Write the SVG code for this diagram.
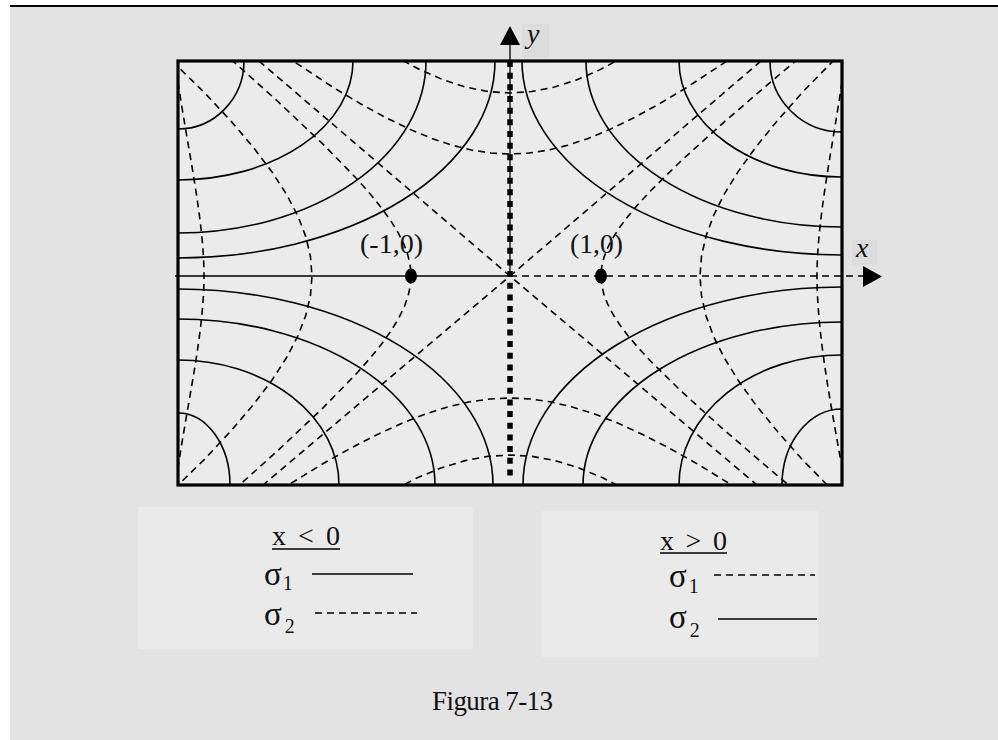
<svg xmlns="http://www.w3.org/2000/svg" width="998" height="740" viewBox="0 0 998 740">
<style>
.bg{fill:#e3e3e3}
.panel{fill:#eaeaea}
.lblbox{fill:#dcdcdc}
.solid{fill:none;stroke:#000;stroke-width:1.6}
.dash{fill:none;stroke:#000;stroke-width:1.6;stroke-dasharray:7 5}
.t{font-family:"Liberation Serif","Times New Roman",serif;fill:#111}
.it{font-style:italic}
</style>
<defs>
<path id="hyp" fill="none" stroke="#000" stroke-width="1.6" stroke-dasharray="7 5" vector-effect="non-scaling-stroke" d="M6.1323,-6.0502 L4.7966,-4.6912 3.7622,-3.6269 2.9642,-2.7904 2.3524,-2.1293 1.8884,-1.6019 1.5431,-1.1752 1.4079,-0.991 1.2947,-0.8223 1.2017,-0.6665 1.1276,-0.5211 1.0711,-0.3838 1.0314,-0.2526 1.0078,-0.1253 1,0 1.0078,0.1253 1.0314,0.2526 1.0711,0.3838 1.1276,0.5211 1.2017,0.6665 1.2947,0.8223 1.4079,0.991 1.5431,1.1752 1.8884,1.6019 2.3524,2.1293 2.9642,2.7904 3.7622,3.6269 4.7966,4.6912 6.1323,6.0502"/>
<clipPath id="plotclip"><rect x="178" y="61" width="664" height="424"/></clipPath>
</defs>

<g id="background">
<rect x="10" y="7" width="988" height="733" class="bg"/>
<line x1="10" y1="6" x2="998" y2="6" stroke="#000" stroke-width="2"/>
</g>

<g id="plot-area">
<rect x="178" y="61" width="664" height="424" fill="#ebebeb"/>
</g>

<g id="trajectories" clip-path="url(#plotclip)">
<g id="solid-curves" class="solid">
<path d="M244,61 A66,68 0 0 1 178,129"/>
<path d="M353,61 A175,119 0 0 1 178,180"/>
<path d="M426,61 A248,172 0 0 1 178,233"/>
<path d="M495,61 A317,197 0 0 1 178,258"/>
<path d="M230,485 A52,72 0 0 0 178,413"/>
<path d="M339,485 A161,125 0 0 0 178,360"/>
<path d="M435,485 A257,166 0 0 0 178,319"/>
<path d="M493,485 A315,196 0 0 0 178,289"/>
<path d="M770,61 A72,71 0 0 0 842,132"/>
<path d="M679,61 A163,116 0 0 0 842,177"/>
<path d="M586,61 A256,166 0 0 0 842,227"/>
<path d="M522,61 A320,194 0 0 0 842,255"/>
<path d="M782,485 A60,76 0 0 1 842,409"/>
<path d="M679,485 A163,130 0 0 1 842,355"/>
<path d="M583,485 A259,163 0 0 1 842,322"/>
<path d="M523,485 A319,198 0 0 1 842,287"/>
</g>
<g id="dashed-curves">
<use href="#hyp" transform="matrix(-99,0,0,82.3,510,276)"/>
<use href="#hyp" transform="matrix(91,0,0,72.3,510,276)"/>
<use href="#hyp" transform="matrix(-198,0,0,156,510,276)"/>
<use href="#hyp" transform="matrix(190,0,0,157,510,276)"/>
<use href="#hyp" transform="matrix(0,-122,150,0,510,276)"/>
<use href="#hyp" transform="matrix(0,122,160,0,510,276)"/>
<use href="#hyp" transform="matrix(0,-183,173,0,510,276)"/>
<use href="#hyp" transform="matrix(0,179,178,0,510,276)"/>
<path class="dash" d="M178,82 C188,150 204,220 204,276 C204,332 188,400 178,468"/>
<path class="dash" d="M842,82 C832,150 817,220 817,276 C817,332 830,400 841,462"/>
<path class="dash" d="M259,61 L510,276 L757,485"/>
<path class="dash" d="M761,61 L510,276 L263,485"/>
</g>
</g>

<g id="frame">
<rect x="178" y="61" width="664" height="424" fill="none" stroke="#000" stroke-width="3.2"/>
</g>

<g id="axes">
<line x1="175" y1="276" x2="510" y2="276" stroke="#000" stroke-width="1.6"/>
<line x1="510" y1="276" x2="865" y2="276" class="dash"/>
<polygon points="863,266 882,276.5 863,287" fill="#000"/>
<line x1="510" y1="44" x2="510" y2="276" stroke="#000" stroke-width="1.3"/>
<line x1="510" y1="61" x2="510" y2="481" stroke="#000" stroke-width="5.5" stroke-dasharray="6 5.67"/>
<polygon points="510,26 500,45 520,45" fill="#000"/>
<ellipse cx="411" cy="276" rx="6" ry="7.5" fill="#000"/>
<ellipse cx="601" cy="276" rx="6" ry="7.5" fill="#000"/>
</g>

<g id="axis-labels">
<rect x="522" y="24" width="27" height="33" class="lblbox"/>
<text x="527" y="43" class="t it" font-size="28">y</text>
<rect x="852" y="240" width="25" height="25" class="lblbox"/>
<text x="856" y="257" class="t it" font-size="28">x</text>
<text x="360" y="253" class="t" font-size="27" textLength="63" lengthAdjust="spacingAndGlyphs">(-1,0)</text>
<text x="570" y="253" class="t" font-size="27" textLength="53" lengthAdjust="spacingAndGlyphs">(1,0)</text>
</g>

<g id="legend-left">
<rect x="138" y="507" width="335" height="142" class="panel"/>
<text x="272" y="545" class="t" font-size="28" textLength="68">x &lt; 0</text>
<line x1="272" y1="549" x2="340" y2="549" stroke="#000" stroke-width="1.5"/>
<text x="264" y="585" class="t" font-size="33">σ<tspan font-size="20" dy="5" dx="1">1</tspan></text>
<line x1="312" y1="574" x2="413" y2="574" class="solid"/>
<text x="264" y="625" class="t" font-size="33">σ<tspan font-size="20" dy="8" dx="3">2</tspan></text>
<line x1="315" y1="613" x2="417" y2="613" class="dash"/>
</g>

<g id="legend-right">
<rect x="542" y="511" width="276" height="146" class="panel"/>
<text x="660" y="550" class="t" font-size="28" textLength="67">x &gt; 0</text>
<line x1="660" y1="553" x2="727" y2="553" stroke="#000" stroke-width="1.5"/>
<text x="669" y="587" class="t" font-size="33">σ<tspan font-size="20" dy="6" dx="2">1</tspan></text>
<line x1="714" y1="575" x2="815" y2="575" class="dash"/>
<text x="669" y="628" class="t" font-size="33">σ<tspan font-size="20" dy="9" dx="3">2</tspan></text>
<line x1="718" y1="619" x2="817" y2="619" class="solid"/>
</g>

<g id="caption">
<text x="432" y="710" class="t" font-size="27" textLength="121">Figura 7-13</text>
</g>
</svg>
